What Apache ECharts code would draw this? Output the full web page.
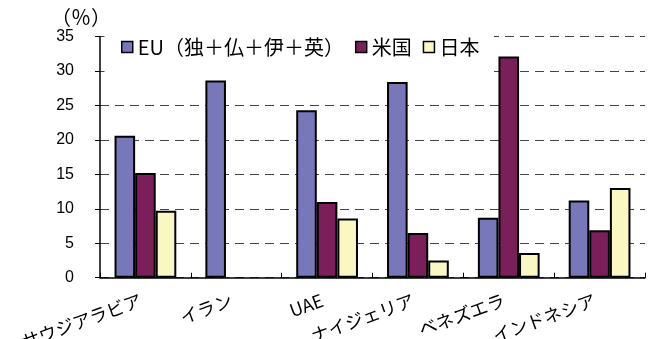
<!DOCTYPE html>
<html>
<head>
<meta charset="utf-8">
<script src="https://cdn.jsdelivr.net/npm/echarts@6/dist/echarts.min.js"></script>
<style>
html,body{margin:0;padding:0;background:#fff;}
#chart{width:654px;height:339px;}
</style>
</head>
<body>
<div id="chart"></div>
<script>
const categories = ['サウジアラビア', 'イラン', 'UAE', 'ナイジェリア', 'ベネズエラ', 'インドネシア'];
const seriesNames = ['EU（独＋仏＋伊＋英）', '米国', '日本'];
const euValues = [20.6, 28.6, 24.3, 28.4, 8.7, 11.2];
const usValues = [15.2, null, 11.0, 6.5, 32.1, 6.9];
const jpValues = [9.7, null, 8.6, 2.5, 3.6, 13.0];
const yTicks = [0, 5, 10, 15, 20, 25, 30, 35];
const unitLabel = '（％）';

const colors = ['#7777B9', '#7B1F5B', '#F9F8C2'];
const cjk = '"Noto Sans CJK JP", "Noto Sans", sans-serif';

const chart = echarts.init(document.getElementById('chart'), null, {renderer: 'canvas'});
const mk = (name, data, i) => ({
  name: name,
  type: 'bar',
  data: data,
  barGap: '0%',
  barCategoryGap: '32%',
  z: 2,
  itemStyle: {color: colors[i], borderColor: '#000', borderWidth: 2},
  emphasis: {disabled: true}
});
chart.setOption({
  animation: false,
  backgroundColor: '#fff',
  grid: {left: 100, right: 9, top: 36.5, bottom: 61.3, containLabel: false, outerBoundsMode: 'none'},
  legend: {
    data: seriesNames,
    left: 105, top: 30,
    padding: [7, 14, 19, 16],
    backgroundColor: '#ffffff',
    borderColor: '#ffffff', borderWidth: 1,
    itemWidth: 11, itemHeight: 11, itemGap: 11,
    icon: 'rect',
    zlevel: 1,
    z: 10,
    itemStyle: {borderColor: '#000', borderWidth: 1.5},
    textStyle: {fontFamily: cjk, fontSize: 20, color: '#000'},
    selectedMode: false
  },
  xAxis: {
    type: 'category',
    data: categories,
    z: 0,
    axisLine: {lineStyle: {color: '#000', width: 1.5}},
    axisTick: {show: true, inside: true, length: 5, alignWithLabel: false, lineStyle: {color: '#000'}},
    axisLabel: {interval: 0, rotate: 20, margin: 20, fontFamily: cjk, fontSize: 18, color: '#000', padding: [0, 5, 0, 0]},
    splitLine: {show: false}
  },
  yAxis: {
    type: 'value',
    z: 0,
    min: yTicks[0], max: yTicks[yTicks.length - 1], interval: yTicks[1] - yTicks[0],
    name: unitLabel,
    nameLocation: 'end',
    nameGap: 9,
    nameTextStyle: {fontFamily: cjk, fontSize: 20, color: '#000', align: 'center', padding: [0, 38, 0, 0]},
    axisLine: {show: true, lineStyle: {color: '#000', width: 1.5}},
    axisTick: {show: true, inside: false, length: 5, lineStyle: {color: '#000'}},
    axisLabel: {margin: 26, fontFamily: '"Liberation Sans", Arial, sans-serif', fontSize: 16, color: '#000'},
    splitLine: {show: true, lineStyle: {color: '#444', type: [9, 6], width: 1}}
  },
  series: [mk(seriesNames[0], euValues, 0), mk(seriesNames[1], usValues, 1), mk(seriesNames[2], jpValues, 2)]
});
</script>
</body>
</html>
